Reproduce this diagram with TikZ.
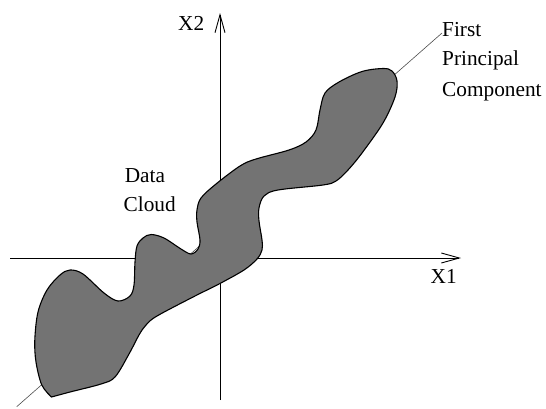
\documentclass[tikz,border=0pt]{standalone}
\usepackage{fontspec}
\setmainfont{Liberation Serif}
\usetikzlibrary{arrows.meta}
\begin{document}
\begin{tikzpicture}[x=1pt,y=-1pt,
  axis/.style={line width=0.9pt,-{Straight Barb[length=18pt,width=10pt,line width=0.9pt]}},
  pcline/.style={line width=0.6pt,draw=black!70},
  cloud/.style={fill=black!55,draw=black,line width=1.1pt,line join=round},
  lbl/.style={font=\fontsize{21.3}{30.5}\selectfont,inner sep=0pt,anchor=base west}]
\useasboundingbox (0,0) rectangle (546,408);

% axes
\coordinate (xL) at (10,258);
\coordinate (xR) at (461,258);
\coordinate (yB) at (220,400);
\coordinate (yT) at (220,13);
\draw[axis] (xL) -- (xR);
\draw[axis] (yB) -- (yT);

% principal component direction
\coordinate (pcA) at (16.7,406.7);
\coordinate (pcB) at (442,33);
\draw[pcline] (pcA) -- (pcB);

% data cloud, drawn over the axes
\draw[cloud] plot[smooth,tension=0.55] coordinates {
 (51.5,397) (41.8,385) (36,362) (34.8,340) (38,312) (47,290) (60,275) (70,270)
 (83,274) (104,293) (118,301) (130,296) (134,285) (135,262) (137,246) (143,238)
 (151,234.5) (164,238) (181,249) (191,254) (198,249) (200,240) (197,222) (197,210)
 (201,198) (216,184) (240,166) (256,159) (289,150) (306,142) (316,130) (320,110)
 (325,93) (339,82) (362,71.5) (383,68.5) (392,71) (397,81) (395,97) (383,123)
 (362,153) (348,170) (336,181) (323,185) (278,190) (264,196) (259,208) (259,221)
 (262,240) (262,250) (257,259) (244,270) (219,284) (195,296) (157,316) (146,325)
 (139,335) (129,354) (115,377) (101,384) (70,392) (51.5,397)} -- cycle;

% labels
\node[lbl] (x2) at (178,30.7) {X2};
\node[lbl] (x1) at (430.5,283) {X1};
\node[lbl] (fpc) at (442,36.5) {First};
\node[lbl] (fpc2) at (442,65.8) {Principal};
\node[lbl] (fpc3) at (442,96.9) {Component};
\node[lbl] (dc1) at (124.6,182) {Data};
\node[lbl] (dc2) at (123.5,211) {Cloud};
\end{tikzpicture}
\end{document}
